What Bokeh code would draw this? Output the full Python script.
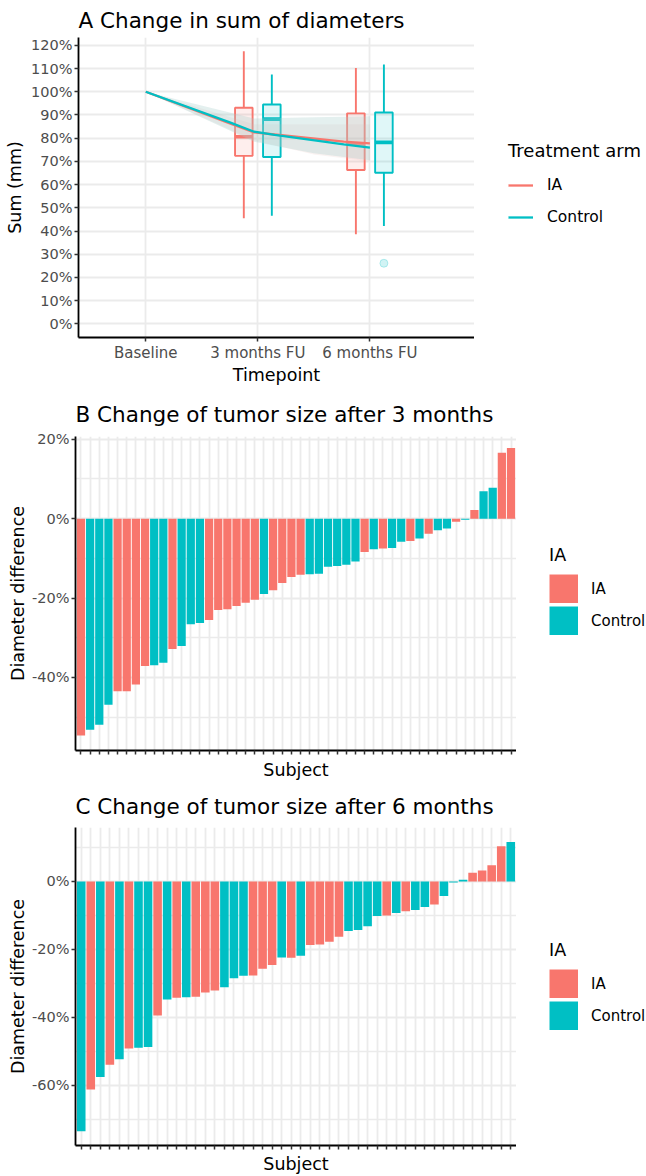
import math
from bokeh.plotting import figure
from bokeh.layouts import column, row
from bokeh.models import Range1d, FixedTicker, Legend, LegendItem, ColumnDataSource
from bokeh.transform import factor_cmap
from bokeh.embed import file_html
from bokeh.resources import INLINE

RED = "#F8766D"
TEAL = "#00BFC4"
FONT = "DejaVu Sans"
GRID = "#EBEBEB"
TICKLBL = "#4D4D4D"

# ---------------- Panel A data ----------------
timepoint_labels = ["Baseline", "3 months FU", "6 months FU"]
timepoint_months = [0, 3, 6]
arms = ["IA", "Control"]

box_month = [3, 3, 6, 6]
box_arm = ["IA", "Control", "IA", "Control"]
box_low = [45.5, 46.6, 38.6, 42.2]
box_q1 = [72.4, 71.9, 66.3, 65.1]
box_med = [80.6, 88.2, 77.5, 78.2]
box_q3 = [93.1, 94.5, 90.7, 91.1]
box_high = [117.5, 107.5, 110.3, 111.8]

outlier_month = [6]
outlier_arm = ["Control"]
outlier_value = [26.1]

trend_month = [0, 2.25, 2.9, 3.45, 5.3, 6]
trend_ia = [100, 86.4, 82.5, 81.6, 78.5, 77.8]
trend_control = [100, 86.8, 82.8, 81.4, 77.3, 75.9]

band_month = [0, 2.9, 4.5, 6]
band_ia_upper = [100, 86.0, 86.0, 86.0]
band_ia_lower = [100, 79.0, 73.0, 70.0]
band_control_upper = [100, 88.5, 89.0, 89.5]
band_control_lower = [100, 78.5, 73.5, 70.5]

# ---------------- Panel B data ----------------
b_arm = ["IA", "Control", "Control", "Control", "IA", "IA", "IA", "IA",
         "Control", "Control", "IA", "Control", "Control", "Control", "IA", "IA",
         "IA", "IA", "IA", "IA", "Control", "IA", "IA", "IA",
         "IA", "Control", "Control", "Control", "Control", "Control", "Control", "IA",
         "Control", "IA", "Control", "Control", "IA", "Control", "IA", "Control",
         "Control", "IA", "Control", "IA", "Control", "Control", "IA", "IA"]
b_diff = [-54.6, -53.2, -51.9, -46.9, -43.5, -43.5, -41.8, -37.1,
          -36.9, -36.3, -32.8, -32.1, -26.6, -26.3, -25.5, -23.0,
          -22.8, -22.0, -21.2, -20.4, -19.0, -18.0, -16.2, -14.7,
          -14.1, -14.0, -13.9, -12.1, -11.9, -11.6, -10.8, -8.4,
          -7.7, -7.5, -7.4, -5.8, -5.6, -5.0, -3.8, -2.9,
          -2.5, -0.8, -0.3, 2.2, 6.9, 7.8, 16.6, 17.8]

# ---------------- Panel C data ----------------
c_arm = ["Control", "IA", "Control", "IA", "Control", "IA", "Control", "Control",
         "IA", "Control", "IA", "Control", "IA", "IA", "IA", "Control",
         "Control", "Control", "IA", "IA", "IA", "Control", "IA", "Control",
         "IA", "IA", "IA", "IA", "Control", "Control", "Control", "Control",
         "IA", "Control", "IA", "Control", "Control", "IA", "Control", "Control",
         "Control", "IA", "IA", "IA", "IA", "Control"]
c_diff = [-73.6, -61.3, -57.6, -54.0, -52.4, -49.2, -49.0, -48.8,
          -39.5, -34.8, -34.3, -34.1, -34.0, -32.7, -32.1, -31.2,
          -28.5, -27.8, -27.7, -25.7, -24.6, -22.4, -22.5, -21.9,
          -18.7, -18.6, -17.8, -16.3, -14.6, -14.3, -13.2, -10.2,
          -10.0, -9.3, -8.8, -8.4, -7.5, -6.8, -4.3, -0.3,
          0.5, 2.6, 3.2, 4.8, 10.4, 11.6]

arm_color = {"IA": RED, "Control": TEAL}


def pct(v):
    return f"{v:g}%"


def style(p, title, title_standoff, ylabel_standoff):
    p.outline_line_color = None
    p.background_fill_color = "white"
    p.border_fill_color = "white"
    p.title.text = title
    p.title.text_font = FONT
    p.title.text_font_size = "21.5px"
    p.title.text_font_style = "normal"
    p.title.text_color = "black"
    p.title.align = "left"
    p.title.offset = 0
    p.title.standoff = title_standoff
    for ax in (p.xaxis[0], p.yaxis[0]):
        ax.axis_line_color = "black"
        ax.axis_line_width = 1.8
        ax.major_tick_line_color = "#333333"
        ax.major_tick_line_width = 1.5
        ax.major_tick_in = 0
        ax.major_tick_out = 4
        ax.minor_tick_line_color = None
        ax.major_label_text_font = FONT
        ax.major_label_text_font_size = "15px"
        ax.major_label_text_color = TICKLBL
        ax.axis_label_text_font = FONT
        ax.axis_label_text_font_size = "17.5px"
        ax.axis_label_text_font_style = "normal"
        ax.axis_label_text_color = "black"
    p.yaxis[0].major_label_text_font_size = "14.5px"
    p.yaxis[0].major_label_standoff = 2
    p.yaxis[0].axis_label_standoff = ylabel_standoff
    p.xgrid.grid_line_color = GRID
    p.xgrid.grid_line_width = 1.8
    p.ygrid.grid_line_color = GRID
    p.ygrid.grid_line_width = 2


def legend_fig(width, height, title, title_size, label_size, key_width, glyph_w, glyph_h,
               standoff, spacing, label_standoff, vx, vy):
    f = figure(width=width, height=height, x_range=Range1d(0, 1), y_range=Range1d(0, 1),
               output_backend="svg", toolbar_location=None,
               x_axis_location=None, y_axis_location=None,
               min_border_left=0, min_border_right=0, min_border_top=0, min_border_bottom=0)
    f.outline_line_color = None
    f.xgrid.visible = False
    f.ygrid.visible = False
    r_ia = f.line(x=[math.nan], y=[math.nan], line_color=RED, line_width=key_width)
    r_ct = f.line(x=[math.nan], y=[math.nan], line_color=TEAL, line_width=key_width)
    leg = Legend(items=[LegendItem(label="IA", renderers=[r_ia]),
                        LegendItem(label="Control", renderers=[r_ct])],
                 location=(vx, vy), title=title,
                 title_text_font=FONT, title_text_font_size=title_size,
                 title_text_font_style="normal", title_text_color="black",
                 title_standoff=standoff,
                 label_text_font=FONT, label_text_font_size=label_size,
                 label_text_color="black",
                 glyph_width=glyph_w, glyph_height=glyph_h, label_height=glyph_h,
                 label_standoff=label_standoff, spacing=spacing,
                 padding=0, margin=0, border_line_color=None,
                 background_fill_alpha=0)
    f.add_layout(leg)
    return f


# ================= Panel A =================
pA = figure(width=474, height=390, x_range=Range1d(-1.8, 8.8), y_range=Range1d(-5.9, 123.4),
            output_backend="svg", toolbar_location=None,
            min_border_left=78, min_border_right=0, min_border_top=36, min_border_bottom=53)
style(pA, "A Change in sum of diameters", 10, 3)
pA.xaxis[0].ticker = FixedTicker(ticks=timepoint_months)
pA.xaxis[0].major_label_overrides = {m: l for m, l in zip(timepoint_months, timepoint_labels)}
pA.xaxis[0].major_label_standoff = 2
pA.xaxis[0].axis_label_standoff = 0
pA.xaxis[0].axis_label = "Timepoint"
yt = list(range(0, 121, 10))
pA.yaxis[0].ticker = FixedTicker(ticks=yt)
pA.yaxis[0].major_label_overrides = {v: pct(v) for v in yt}
pA.yaxis[0].axis_label = "Sum (mm)"

dodge = {"IA": -0.375, "Control": 0.375}
half_w = 0.235
bx = [m + dodge[a] for m, a in zip(box_month, box_arm)]
bsrc = ColumnDataSource(dict(
    x=bx, left=[x - half_w for x in bx], right=[x + half_w for x in bx],
    low=box_low, q1=box_q1, med=box_med, q3=box_q3, high=box_high,
    color=[arm_color[a] for a in box_arm],
))
pA.quad(left="left", right="right", bottom="q1", top="q3", source=bsrc,
        fill_color="color", fill_alpha=0.12, line_color="color", line_width=1.9)
pA.segment(x0="x", x1="x", y0="q3", y1="high", source=bsrc, line_color="color", line_width=1.9)
pA.segment(x0="x", x1="x", y0="q1", y1="low", source=bsrc, line_color="color", line_width=1.9)
pA.segment(x0="left", x1="right", y0="med", y1="med", source=bsrc, line_color="color", line_width=3.6)

ox = [m + dodge[a] for m, a in zip(outlier_month, outlier_arm)]
pA.scatter(x=ox, y=outlier_value, size=8, fill_color=TEAL, fill_alpha=0.18,
           line_color=TEAL, line_alpha=0.25)

pA.varea(x=band_month, y1=band_ia_lower, y2=band_ia_upper, fill_color="#e0b3af", fill_alpha=0.16)
pA.varea(x=band_month, y1=band_control_lower, y2=band_control_upper, fill_color="#a6cecb", fill_alpha=0.3)
pA.line(trend_month, trend_ia, line_color=RED, line_width=2.3)
pA.line(trend_month, trend_control, line_color=TEAL, line_width=2.3)

legA = legend_fig(172, 390, "Treatment arm", "18px", "15.5px", 2.3, 25, 20, 14, 12, 14, 34, 110)


# ================= Panels B, C =================
def waterfall(arm_list, diff_list, height, yr, yticks, yminor, title, top, bottom, standoff,
              xlabel_standoff):
    n = len(diff_list)
    p = figure(width=516, height=height, x_range=Range1d(0.4, n + 0.6), y_range=Range1d(*yr),
               output_backend="svg", toolbar_location=None,
               min_border_left=75, min_border_right=0, min_border_top=top, min_border_bottom=bottom)
    style(p, title, standoff, 1)
    subj = list(range(1, n + 1))
    src = ColumnDataSource(dict(x=subj, top=diff_list, arm=arm_list))
    p.vbar(x="x", top="top", bottom=0, width=0.9, source=src, line_color=None,
           fill_color=factor_cmap("arm", [RED, TEAL], arms))
    p.xaxis[0].ticker = FixedTicker(ticks=subj)
    p.xaxis[0].major_label_overrides = {s: "" for s in subj}
    p.xaxis[0].major_label_text_font_size = "0px"
    p.xaxis[0].major_label_standoff = 0
    p.xaxis[0].axis_label_standoff = xlabel_standoff
    p.xaxis[0].axis_label = "Subject"
    p.yaxis[0].ticker = FixedTicker(ticks=yticks, minor_ticks=yminor)
    p.yaxis[0].major_label_overrides = {v: pct(v) for v in yticks}
    p.yaxis[0].axis_label = "Diameter difference"
    p.ygrid.minor_grid_line_color = GRID
    p.ygrid.minor_grid_line_width = 1.5
    return p


pB = waterfall(b_arm, b_diff, 392, (-58.4, 20.7), [-40, -20, 0, 20], [-50, -30, -10, 10],
               "B Change of tumor size after 3 months", 44, 30, 19, 5)
legB = legend_fig(130, 392, "IA", "17.5px", "15px", 29, 29, 29, 9, 3, 13, 33, 115)

pC = waterfall(c_arm, c_diff, 394, (-77.8, 15.9), [-60, -40, -20, 0], [-70, -50, -30, -10, 10],
               "C Change of tumor size after 6 months", 45, 29, 17, 4)
legC = legend_fig(130, 394, "IA", "17.5px", "15px", 29, 29, 29, 9, 3, 13, 33, 115)

layout = column(row(pA, legA, spacing=0), row(pB, legB, spacing=0), row(pC, legC, spacing=0),
                spacing=0)
open("out.html", "w").write(file_html(layout, INLINE))
